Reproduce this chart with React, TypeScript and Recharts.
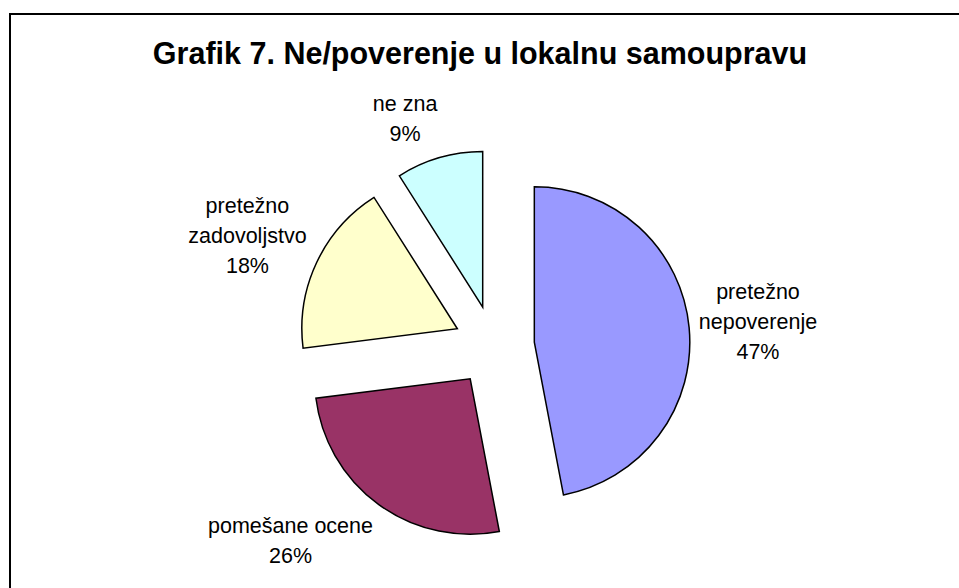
import { PieChart, Pie, Cell } from "recharts";

const categories = ["pretežno nepoverenje", "pomešane ocene", "pretežno zadovoljstvo", "ne zna"];
const values = [47, 26, 18, 9];
const labelLines = [["pretežno", "nepoverenje"], ["pomešane ocene"], ["pretežno", "zadovoljstvo"], ["ne zna"]];
const colors = ["#9999FF", "#993366", "#FFFFCC", "#CCFFFF"];
const title = "Grafik 7. Ne/poverenje u lokalnu samoupravu";

const W = 959;
const H = 588;
const CX = 494;
const CY = 346;
const R = 155.5;
const EXPLODE = 40.5;
const RAD = Math.PI / 180;
const FONT = "'Liberation Sans', Arial, sans-serif";
const FS = 21.5;
const LH = 30;
const GAP = 6;
// small hand tweaks so the labels sit where Excel put them
const labelNudge = [
  [0, 0],
  [-42, -28],
  [2, 6],
  [-22, 3],
];

const data = categories.map((name, i) => ({ name, value: values[i] }));
const total = values.reduce((a, b) => a + b, 0);

// middle angle of every slice, clockwise from 12 o'clock (recharts degrees)
const midAngles = values.map((v, i) => {
  const before = values.slice(0, i).reduce((a, b) => a + b, 0);
  return 90 - (360 * (before + v / 2)) / total;
});

let ctx: CanvasRenderingContext2D | null = null;
function textWidth(s: string) {
  if (!ctx) ctx = document.createElement("canvas").getContext("2d");
  if (!ctx) return s.length * FS * 0.5;
  ctx.font = `${FS}px 'Liberation Sans', Arial, sans-serif`;
  return ctx.measureText(s).width;
}

function makeLabel(visible: number) {
  return (props: any) => {
    const { cx, cy, midAngle, outerRadius, index, percent } = props;
    if (index !== visible) return null;
    const lines = [...labelLines[index], `${Math.round(percent * 100)}%`];
    const halfW = Math.max(...lines.map(textWidth)) / 2;
    const halfH = (lines.length * LH) / 2;
    const c = Math.cos(midAngle * RAD);
    const s = Math.sin(midAngle * RAD);
    const dist = outerRadius + GAP + halfW * Math.abs(c) + halfH * Math.abs(s);
    const x = cx + dist * c + labelNudge[index][0];
    const top = cy - dist * s - halfH + labelNudge[index][1];
    return (
      <text x={x} y={top} textAnchor="middle" fontFamily={FONT} fontSize={FS} fill="#000">
        {lines.map((l, k) => (
          <tspan key={k} x={x} y={top + k * LH + LH / 2 + FS * 0.35}>
            {l}
          </tspan>
        ))}
      </text>
    );
  };
}

export default function App() {
  return (
    <div style={{ position: "absolute", left: 0, top: 0, width: W, height: H, background: "#fff" }}>
      <svg width={W} height={H} style={{ position: "absolute", left: 0, top: 0 }}>
        <rect x={10} y={14} width={W + 20} height={H + 20} fill="#fff" stroke="#000" strokeWidth={2} />
        <text x={480} y={64} textAnchor="middle" fontFamily={FONT} fontWeight="bold" fontSize={30.5}>
          {title}
        </text>
      </svg>
      <div style={{ position: "absolute", left: 0, top: 0 }}>
        <PieChart width={W} height={H} margin={{ top: 0, right: 0, bottom: 0, left: 0 }}>
          {values.map((_, i) => (
            <Pie
              key={i}
              data={data}
              dataKey="value"
              nameKey="name"
              cx={CX + EXPLODE * Math.cos(midAngles[i] * RAD)}
              cy={CY - EXPLODE * Math.sin(midAngles[i] * RAD)}
              outerRadius={R}
              startAngle={90}
              endAngle={-270}
              labelLine={false}
              label={makeLabel(i)}
              isAnimationActive={false}
            >
              {data.map((_, j) => (
                <Cell
                  key={j}
                  fill={j === i ? colors[j] : "none"}
                  stroke={j === i ? "#000" : "none"}
                  strokeWidth={1.5}
                />
              ))}
            </Pie>
          ))}
        </PieChart>
      </div>
    </div>
  );
}
